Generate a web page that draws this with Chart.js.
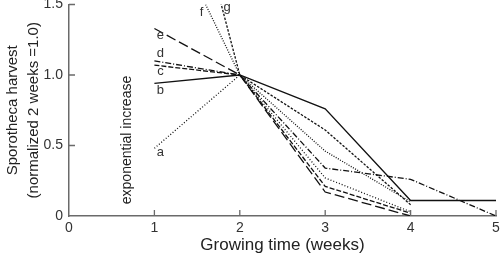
<!DOCTYPE html>
<html>
<head>
<meta charset="utf-8">
<script src="https://cdn.jsdelivr.net/npm/chart.js@4/dist/chart.umd.min.js"></script>
<style>
html,body{margin:0;padding:0;background:#fff;}
#wrap{width:500px;height:258px;position:relative;}
</style>
</head>
<body>
<div id="wrap"><canvas id="c" width="500" height="258"></canvas></div>
<script>
// ---- data ----
const weeks = [1, 2, 3, 4, 5];
const xTicks = [0, 1, 2, 3, 4, 5];
const yTicks = [0, 0.5, 1.0, 1.5];
const seriesNames = ['a', 'b', 'c', 'd', 'e', 'f', 'g'];
const seriesA = [0.48, 1.0, 0.27, 0.03, null];
const seriesB = [0.94, 1.0, 0.76, 0.11, 0.11];
const seriesC = [1.07, 1.0, 0.21, 0.02, null];
const seriesD = [1.10, 1.0, 0.34, 0.26, 0.0];
const seriesE = [1.33, 1.0, 0.17, 0.0, null];
const seriesF = [2.25, 1.0, 0.46, 0.10, null];
const seriesG = [3.30, 1.0, 0.61, 0.08, null];
const annotationText = 'exponential increase';
const xTitle = 'Growing time (weeks)';
const yTitle = ['Sporotheca harvest', '(normalized 2 weeks =1.0)'];

// ---- styles ----
const FONT = "'Liberation Sans', Arial, sans-serif";
const lineColor = '#111';
const axisColor = '#6a6a6a';
const styles = {
  a: [1, 2],
  b: [],
  c: [5, 2],
  d: [6, 2, 1, 2],
  e: [10, 4],
  f: [1, 1.5],
  g: [2.5, 1.5]
};
const allSeries = [seriesA, seriesB, seriesC, seriesD, seriesE, seriesF, seriesG];

const datasets = seriesNames.map((n, k) => ({
  label: n,
  data: weeks.map((w, i) => ({x: w, y: allSeries[k][i]})).filter(p => p.y !== null),
  borderColor: lineColor,
  borderWidth: 1.3,
  borderDash: styles[n],
  pointRadius: 0,
  fill: false,
  tension: 0
}));

const decorPlugin = {
  id: 'decor',
  afterDraw(chart) {
    const ctx = chart.ctx;
    const xs = chart.scales.x, ys = chart.scales.y;
    const ca = chart.chartArea;
    ctx.save();
    // inward tick marks
    ctx.strokeStyle = axisColor;
    ctx.lineWidth = 1.3;
    ctx.beginPath();
    xTicks.forEach(v => {
      if (v === 0) return;
      const px = xs.getPixelForValue(v);
      ctx.moveTo(px, ca.bottom);
      ctx.lineTo(px, ca.bottom - 6);
    });
    yTicks.forEach(v => {
      if (v === 0) return;
      const py = ys.getPixelForValue(v);
      ctx.moveTo(ca.left, py);
      ctx.lineTo(ca.left + 6, py);
    });
    ctx.stroke();
    // series labels
    ctx.fillStyle = '#333';
    ctx.font = '13px ' + FONT;
    ctx.textAlign = 'center';
    ctx.textBaseline = 'middle';
    const x1 = xs.getPixelForValue(1);
    const below = {a: 4, b: 7, c: 6, d: -7, e: 7};
    ['a', 'b', 'c', 'd', 'e'].forEach(n => {
      const k = seriesNames.indexOf(n);
      const py = ys.getPixelForValue(allSeries[k][0]);
      ctx.fillText(n, x1 + 6, py + below[n]);
    });
    // f and g: where their lines leave the top of the plot
    const topV = ys.max;
    [['f', -4, 8], ['g', 6, 3]].forEach(([n, dx, dy]) => {
      const k = seriesNames.indexOf(n);
      const v1 = allSeries[k][0], v2 = allSeries[k][1];
      const t = (v1 - topV) / (v1 - v2);
      const wx = 1 + t;
      ctx.fillText(n, xs.getPixelForValue(wx) + dx, ca.top + dy);
    });
    // vertical annotation
    ctx.font = '14px ' + FONT;
    ctx.fillStyle = '#222';
    ctx.translate(127, 140);
    ctx.rotate(-Math.PI / 2);
    ctx.fillText(annotationText, 0, 0);
    ctx.restore();
  }
};

new Chart(document.getElementById('c'), {
  type: 'line',
  data: {datasets},
  options: {
    responsive: false,
    animation: false,
    layout: {padding: {top: 4.5, right: 4, left: 0, bottom: 0}},
    plugins: {legend: {display: false}, tooltip: {enabled: false}},
    scales: {
      x: {
        type: 'linear',
        min: 0, max: 5,
        afterFit: s => { s.height = 42; s.paddingLeft = 0; s.paddingRight = 0; },
        afterBuildTicks: s => { s.ticks = xTicks.map(v => ({value: v})); },
        grid: {display: false, drawTicks: false},
        border: {display: true, color: axisColor, width: 1.5},
        ticks: {color: '#333', font: {family: FONT, size: 14}, padding: 4, maxRotation: 0, autoSkip: false,
                callback: v => String(v)},
        title: {display: true, text: xTitle, color: '#222', font: {family: FONT, size: 17, lineHeight: 1.2},
                padding: {top: 0, bottom: 2}}
      },
      y: {
        type: 'linear',
        min: 0, max: 1.5,
        afterFit: s => { s.width = 69; s.paddingTop = 0; s.paddingBottom = 0; },
        afterBuildTicks: s => { s.ticks = yTicks.map(v => ({value: v})); },
        grid: {display: false, drawTicks: false},
        border: {display: true, color: axisColor, width: 1.5},
        ticks: {color: '#333', font: {family: FONT, size: 14}, padding: 6,
                callback: v => v === 0 ? '0' : v.toFixed(1)},
        title: {display: true, text: yTitle, color: '#222', font: {family: FONT, size: 15, lineHeight: 1.35},
                padding: {top: 3, bottom: 0}}
      }
    }
  },
  plugins: [decorPlugin]
});
</script>
</body>
</html>
